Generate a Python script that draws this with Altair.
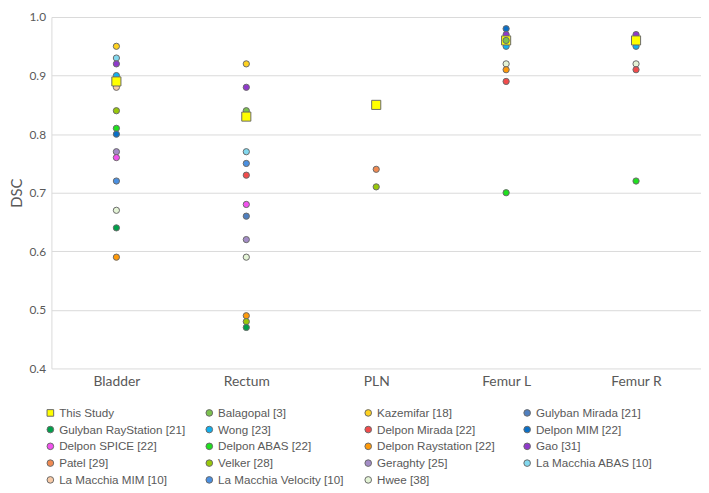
import altair as alt
import pandas as pd

organs = ["Bladder", "Rectum", "PLN", "Femur L", "Femur R"]

studies = [
    "This Study", "Balagopal [3]", "Kazemifar [18]", "Gulyban Mirada [21]",
    "Gulyban RayStation [21]", "Wong [23]", "Delpon Mirada [22]", "Delpon MIM [22]",
    "Delpon SPICE [22]", "Delpon ABAS [22]", "Delpon Raystation [22]", "Gao [31]",
    "Patel [29]", "Velker [28]", "Geraghty [25]", "La Macchia ABAS [10]",
    "La Macchia MIM [10]", "La Macchia Velocity [10]", "Hwee [38]",
]
colors = [
    "#ffff00", "#7cc24e", "#ffd21f", "#4f7fbf",
    "#00a04a", "#12b0ee", "#f24b4b", "#0a6fc6",
    "#f252ee", "#1fe01f", "#ff9a0a", "#8f3acb",
    "#f08a52", "#98c80a", "#a38cc6", "#82d8ee",
    "#f8caa6", "#4a90e2", "#e4f4d6",
]

# This Study values
this_study = [0.89, 0.83, 0.85, 0.96, 0.96]

bladder_studies = ["Kazemifar [18]", "La Macchia ABAS [10]", "Gao [31]", "Wong [23]",
                   "La Macchia MIM [10]", "Velker [28]", "Delpon ABAS [22]", "Delpon MIM [22]",
                   "Geraghty [25]", "Delpon SPICE [22]", "La Macchia Velocity [10]", "Hwee [38]",
                   "Gulyban RayStation [21]", "Delpon Raystation [22]"]
bladder_values = [0.95, 0.93, 0.92, 0.90, 0.88, 0.84, 0.81, 0.80, 0.77, 0.76, 0.72, 0.67, 0.64, 0.59]

rectum_studies = ["Kazemifar [18]", "Gao [31]", "Balagopal [3]", "La Macchia ABAS [10]",
                  "La Macchia Velocity [10]", "Delpon Mirada [22]", "Delpon SPICE [22]",
                  "Gulyban Mirada [21]", "Geraghty [25]", "Hwee [38]", "Delpon Raystation [22]",
                  "Velker [28]", "Gulyban RayStation [21]"]
rectum_values = [0.92, 0.88, 0.84, 0.77, 0.75, 0.73, 0.68, 0.66, 0.62, 0.59, 0.49, 0.48, 0.47]

pln_studies = ["Patel [29]", "Velker [28]"]
pln_values = [0.74, 0.71]

femurl_studies = ["Delpon MIM [22]", "Gao [31]", "Wong [23]", "Hwee [38]",
                  "Delpon Raystation [22]", "Delpon Mirada [22]", "Delpon ABAS [22]"]
femurl_values = [0.98, 0.97, 0.95, 0.92, 0.91, 0.89, 0.70]

femurr_studies = ["Gao [31]", "Wong [23]", "Hwee [38]", "Delpon Mirada [22]", "Delpon ABAS [22]"]
femurr_values = [0.97, 0.95, 0.92, 0.91, 0.72]

# drawn on top of the square
femurl_top_studies = ["Balagopal [3]"]
femurl_top_values = [0.96]

rows = []
for organ, st, vals in [("Bladder", bladder_studies, bladder_values),
                        ("Rectum", rectum_studies, rectum_values),
                        ("PLN", pln_studies, pln_values),
                        ("Femur L", femurl_studies, femurl_values),
                        ("Femur R", femurr_studies, femurr_values)]:
    for s, v in zip(st, vals):
        rows.append({"organ": organ, "study": s, "dsc": v})
for organ, v in zip(organs, this_study):
    rows.append({"organ": organ, "study": "This Study", "dsc": v})
for s, v in zip(femurl_top_studies, femurl_top_values):
    rows.append({"organ": "Femur L", "study": s, "dsc": v})

df = pd.DataFrame(rows)
df["ord"] = range(len(df))

shapes = ["square"] + ["circle"] * (len(studies) - 1)

chart = alt.Chart(df).mark_point(
    filled=True, stroke="#6a6a6a", strokeWidth=1, opacity=1
).encode(
    x=alt.X("organ:N", sort=organs, title=None,
            scale=alt.Scale(padding=0.5),
            axis=alt.Axis(labelAngle=0, labelFont="Lato", labelFontSize=14,
                          labelColor="#595959", ticks=False, domain=False,
                          labelPadding=6, grid=False)),
    y=alt.Y("dsc:Q", title="DSC",
            scale=alt.Scale(domain=[0.4, 1.0], nice=False, zero=False),
            axis=alt.Axis(values=[0.4, 0.5, 0.6, 0.7, 0.8, 0.9, 1.0], format=".1f",
                          labelFont="Lato", labelFontSize=12, labelColor="#595959",
                          titleFont="Lato", titleFontSize=15, titleColor="#595959",
                          titleFontWeight="normal", titlePadding=5,
                          ticks=False, domain=True, domainColor="#d9d9d9",
                          gridColor="#d9d9d9", labelPadding=6)),
    color=alt.Color("study:N", scale=alt.Scale(domain=studies, range=colors),
                    legend=alt.Legend(title=None, orient="none", legendX=-7, legendY=395,
                                      direction="horizontal",
                                      columns=4, gridAlign="all", columnPadding=18,
                                      rowPadding=4, labelFont="Liberation Sans",
                                      labelFontSize=11.8, labelColor="#595959",
                                      symbolSize=45, labelOffset=3,
                                      symbolStrokeColor="#6a6a6a", symbolStrokeWidth=1)),
    shape=alt.Shape("study:N", scale=alt.Scale(domain=studies, range=shapes)),
    size=alt.condition(alt.datum.study == "This Study", alt.value(85), alt.value(40)),
    order=alt.Order("ord:Q"),
).properties(
    width=658, height=356,
    padding={"left": 1, "top": 0, "right": 0, "bottom": 0},
).configure_view(stroke=None)

chart.save("out.html", embed_options={"renderer": "svg", "actions": False})
